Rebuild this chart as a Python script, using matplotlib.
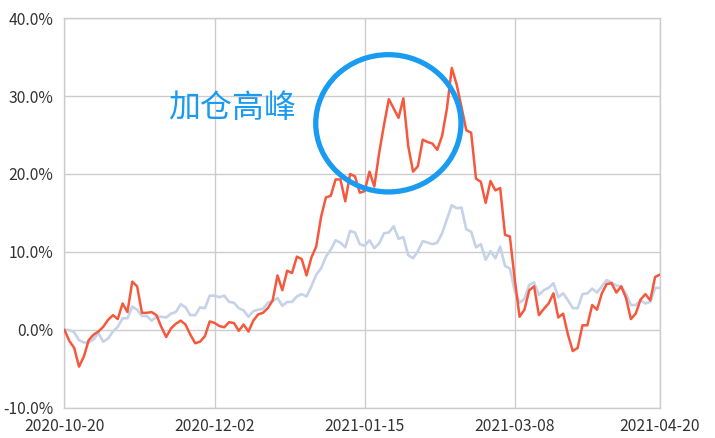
import matplotlib
matplotlib.use("Agg")
import matplotlib.pyplot as plt
from matplotlib.patches import Ellipse
import numpy as np

plt.rcParams['font.family'] = ['Noto Sans CJK SC', 'DejaVu Sans']

# red line: 加仓 series (%), one value per trading day
red_vals = [
    0.0, -1.4, -2.3, -4.7, -3.4, -1.3, -0.6, -0.2, 0.4, 1.3,
    1.9, 1.4, 3.4, 2.3, 6.2, 5.6, 2.2, 2.2, 2.3, 1.9,
    0.4, -0.9, 0.2, 0.8, 1.2, 0.7, -0.6, -1.7, -1.5, -0.8,
    1.1, 0.9, 0.5, 0.35, 1.0, 0.9, -0.1, 0.7, -0.2, 1.2,
    2.0, 2.2, 2.8, 3.8, 7.0, 5.1, 7.6, 7.3, 9.4, 9.1,
    7.0, 9.3, 10.7, 14.5, 17.0, 17.2, 19.3, 19.3, 16.5, 20.0,
    19.7, 17.6, 17.8, 20.3, 18.4, 22.7, 26.3, 29.6, 28.4, 27.2,
    29.7, 23.6, 20.3, 21.0, 24.4, 24.1, 23.9, 23.1, 24.9, 28.4,
    33.6, 31.5, 28.6, 25.6, 25.3, 19.4, 19.0, 16.3, 19.1, 17.9,
    18.2, 12.2, 12.0, 6.5, 1.7, 2.6, 5.1, 5.6, 1.9, 2.7,
    3.4, 4.7, 1.6, 2.1, -0.6, -2.7, -2.3, 0.6, 0.6, 3.2,
    2.6, 4.7, 5.9, 6.0, 4.8, 5.6, 4.1, 1.4, 2.1, 3.9,
    4.6, 3.8, 6.8, 7.1,
]

# light blue line: benchmark series (%)
blue_vals = [
    0.0, 0.0, -0.3, -1.3, -1.6, -1.6, -1.2, -0.4, -1.5, -1.1,
    -0.2, 0.4, 1.5, 1.5, 3.0, 2.6, 1.8, 1.8, 1.2, 1.7,
    1.7, 1.6, 2.1, 2.3, 3.3, 2.9, 1.9, 1.9, 2.9, 2.8,
    4.4, 4.4, 4.2, 4.4, 3.6, 3.5, 2.8, 2.5, 1.7, 2.4,
    2.6, 2.7, 3.5, 3.7, 4.1, 3.1, 3.6, 3.6, 4.3, 4.6,
    4.3, 5.6, 7.1, 7.9, 9.4, 10.3, 11.5, 11.2, 10.6, 12.7,
    12.5, 11.0, 10.8, 11.5, 10.5, 11.1, 12.4, 12.5, 13.3, 11.7,
    11.9, 9.6, 9.2, 10.1, 11.4, 11.2, 11.0, 11.2, 12.4, 14.2,
    16.0, 15.6, 15.7, 12.9, 12.6, 10.6, 11.0, 9.0, 10.1, 9.2,
    10.7, 8.2, 7.9, 5.0, 3.5, 4.0, 5.8, 6.1, 4.5, 5.1,
    5.4, 6.0, 4.2, 4.7, 3.8, 2.8, 2.8, 4.6, 4.7, 5.3,
    4.8, 5.6, 6.4, 6.1, 5.7, 5.6, 4.6, 3.2, 3.2, 3.8,
    3.4, 3.6, 5.4, 5.4,
]

tick_idx = [0, 31, 62, 93, 123]
tick_labels = ['2020-10-20', '2020-12-02', '2021-01-15', '2021-03-08', '2021-04-20']
y_ticks = [-10, 0, 10, 20, 30, 40]

x = np.arange(len(red_vals))

fig = plt.figure(figsize=(7.15, 4.38), dpi=100)
ax = fig.add_axes([0.0902, 0.0685, 0.8328, 0.8904])

ax.plot(x, blue_vals, color='#c5d2e7', lw=1.9, zorder=3)
ax.plot(x, red_vals, color='#f5583d', lw=1.8, zorder=4)

ax.set_xlim(0, len(red_vals) - 1)
ax.set_ylim(-10, 40)
ax.set_xticks(tick_idx)
ax.set_xticklabels(tick_labels)
ax.set_yticks(y_ticks)
ax.set_yticklabels([f'{v:.1f}%' for v in y_ticks])
ax.tick_params(length=0, labelsize=11.3, labelcolor='#333333')
ax.tick_params(axis='y', pad=8)
ax.tick_params(axis='x', pad=7)
ax.grid(True, color='#cccccc', lw=1)
ax.set_axisbelow(True)
for s in ax.spines.values():
    s.set_color('#cccccc')
    s.set_linewidth(1)

# annotation
ax.text(34.7, 28.4, '加仓高峰', color='#1a9bf2', fontsize=23,
        ha='center', va='center')
ax.add_patch(Ellipse((66.9, 26.5), 30.0, 17.6, fill=False,
                     edgecolor='#1a9bf2', lw=3.8, zorder=5))

fig.savefig('out.png', dpi=100)
